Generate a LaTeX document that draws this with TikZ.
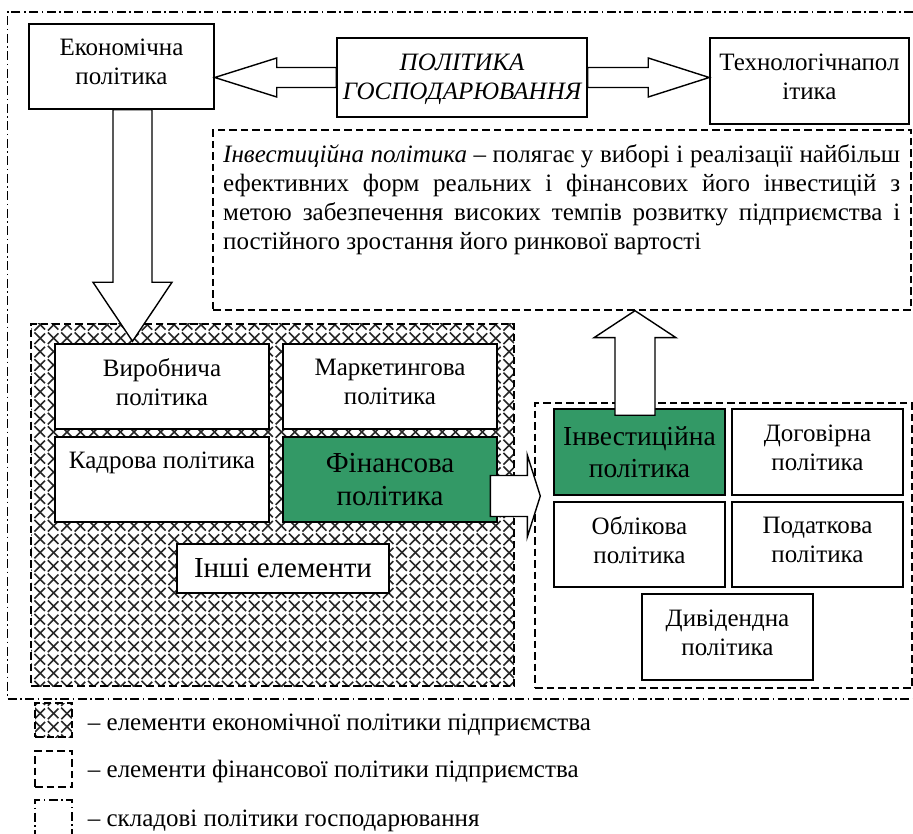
\documentclass[tikz,border=0pt]{standalone}
\usepackage{fontspec}
\setmainfont{Liberation Serif}
\usetikzlibrary{calc,patterns}
\definecolor{seagreen}{HTML}{339966}
\pgfdeclarepatternformonly{diamondgrid}{\pgfqpoint{-1pt}{-1pt}}{\pgfqpoint{14.4pt}{14.4pt}}{\pgfqpoint{13.4pt}{13.4pt}}{%
  \pgfsetlinewidth{1.6pt}%
  \pgfpathmoveto{\pgfqpoint{-0.5pt}{-0.5pt}}\pgfpathlineto{\pgfqpoint{13.9pt}{13.9pt}}%
  \pgfpathmoveto{\pgfqpoint{-0.5pt}{13.9pt}}\pgfpathlineto{\pgfqpoint{13.9pt}{-0.5pt}}%
  \pgfusepath{stroke}}
\begin{document}
\begin{tikzpicture}[x=1pt,y=-1pt,
  nf/.style={font=\fontsize{25}{29}\selectfont},
  lf/.style={font=\fontsize{29}{33}\selectfont},
  nbase/.style={draw=black, line width=1.5pt, fill=white, inner sep=0pt, align=center},
  box/.style={nbase, nf, text depth=9pt},
  plainbox/.style={nbase, nf},
  gbox/.style={nbase, fill=seagreen, lf},
  bigbox/.style={nbase, lf},
  dbox/.style={draw=black, line width=1.4pt, dash pattern=on 7.5pt off 4pt, inner sep=0pt},
  ddbox/.style={draw=black, line width=1.3pt, dash pattern=on 9pt off 3.5pt on 1.5pt off 3.5pt, inner sep=0pt},
  fat/.style={draw=black, line width=1.4pt, fill=white, line join=miter},
  hatch/.style={pattern=diamondgrid, pattern color=black!85}
]
\useasboundingbox (0,0) rectangle (913,834);
\fill[white] (0,0) rectangle (913,834);

% outer frame
\draw[ddbox] (913,12) -- (7.5,12) -- (7.5,699) -- (913,699);

% top row
\node[box, minimum width=185, minimum height=85] (econ) at (121.5,66.5) {Економічна\\політика};
\node[plainbox, minimum width=250, minimum height=79, text depth=1pt, font=\fontsize{25}{29}\selectfont\itshape] (polg) at (462,77.5) {ПОЛІТИКА\\ГОСПОДАРЮВАННЯ};
\node[box, minimum width=199, minimum height=86] (tech) at (809.5,81) {Технологічнапол\\ітика};

% definition box
\node[dbox, minimum width=698, minimum height=180] (tbox) at (562,220) {};
\node[nf, text width=677pt, align=justify, inner sep=0pt, anchor=base west] (ttext) at (223,163)
  {\textit{Інвестиційна політика} – полягає у виборі і реалізації найбільш\linebreak
   ефективних форм реальних і фінансових його інвестицій з\linebreak
   метою забезпечення високих темпів розвитку підприємства і\linebreak
   постійного зростання його ринкової вартості};

% economic policy elements
\node[dbox, minimum width=483, minimum height=362, preaction={hatch}] (econel) at (272.5,505) {};
\node[box, minimum width=214, minimum height=85] (vyr) at (162,386.5) {Виробнича\\політика};
\node[box, minimum width=214, minimum height=85] (mark) at (390,386.5) {Маркетингова\\політика};
\node[box, minimum width=214, minimum height=85] (kadr) at (162,479.5) {Кадрова політика\\~};
\node[gbox, minimum width=214, minimum height=85] (fin) at (390,479.5) {Фінансова\\політика};
\node[bigbox, minimum width=212, minimum height=49] (inshi) at (283,568.5) {Інші елементи};

% financial policy elements
\node[dbox, minimum width=377, minimum height=285] (finel) at (723.5,545.5) {};
\node[gbox, minimum width=171, minimum height=86, font=\fontsize{27.5}{32}\selectfont] (inv) at (639.5,452) {Інвестиційна\\політика};
\node[box, minimum width=171, minimum height=86] (dog) at (817.5,452) {Договірна\\політика};
\node[box, minimum width=171, minimum height=85] (obl) at (639.5,544.5) {Облікова\\політика};
\node[box, minimum width=171, minimum height=85] (pod) at (817.5,544.5) {Податкова\\політика};
\node[box, minimum width=171, minimum height=86] (div) at (727.5,637) {Дивідендна\\політика};

% arrows: policy of management
\coordinate (A) at (econ.east |- polg.west);
\draw[fat] (A) -- ++(62,-19.5) -- ++(0,9.5) -- ($(polg.west)+(0,-10)$) -- ($(polg.west)+(0,10)$)
  -- ($(A)+(62,10)$) -- ($(A)+(62,19.5)$) -- cycle;
\coordinate (B) at (tech.west |- polg.east);
\draw[fat] ($(polg.east)+(0,-10)$) -- ($(B)+(-61,-10)$) -- ($(B)+(-61,-19.5)$) -- (B)
  -- ($(B)+(-61,19.5)$) -- ($(B)+(-61,10)$) -- ($(polg.east)+(0,10)$) -- cycle;

% arrow economic -> elements
\coordinate (T) at ($(vyr.north)+(-29.5,-2)$);
\coordinate (S) at (T |- econ.south);
\draw[fat] ($(S)+(-19.5,0)$) -- ($(S)+(19.5,0)$) -- ($(T)+(19.5,-59)$) -- ($(T)+(39.5,-59)$) -- (T)
  -- ($(T)+(-39.5,-59)$) -- ($(T)+(-19.5,-59)$) -- cycle;

% arrow financial -> financial elements
\coordinate (R) at ($(finel.west |- fin.east)+(6,16.5)$);
\draw[fat] (R) -- ++(-13,-41) -- ++(0,20.5) -- ++(-37,0) -- ++(0,41) -- ++(37,0) -- ++(0,20.5) -- cycle;

% arrow investment -> definition
\coordinate (Ub) at ($(inv.north)+(-4.5,7)$);
\coordinate (U) at (Ub |- tbox.south);
\draw[fat] ($(Ub)+(-20,0)$) -- ($(U)+(-20,27)$) -- ($(U)+(-41,27)$) -- (U) -- ($(U)+(41,27)$)
  -- ($(U)+(20,27)$) -- ($(Ub)+(20,0)$) -- cycle;

% legend
\node[dbox, minimum width=37, minimum height=34, preaction={hatch}] (lg1) at (53.5,720) {};
\node[dbox, minimum width=37, minimum height=36] (lg2) at (53.5,769) {};
\node[ddbox, minimum width=37, minimum height=36] (lg3) at (53.5,818) {};
\node[nf, anchor=west, inner sep=0pt] (lt1) at ($(lg1.east)+(15,5)$) {– елементи економічної політики підприємства};
\node[nf, anchor=west, inner sep=0pt] (lt2) at ($(lg2.east)+(15,2)$) {– елементи фінансової політики підприємства};
\node[nf, anchor=west, inner sep=0pt] (lt3) at ($(lg3.east)+(15,3)$) {– складові політики господарювання};
\end{tikzpicture}
\end{document}
